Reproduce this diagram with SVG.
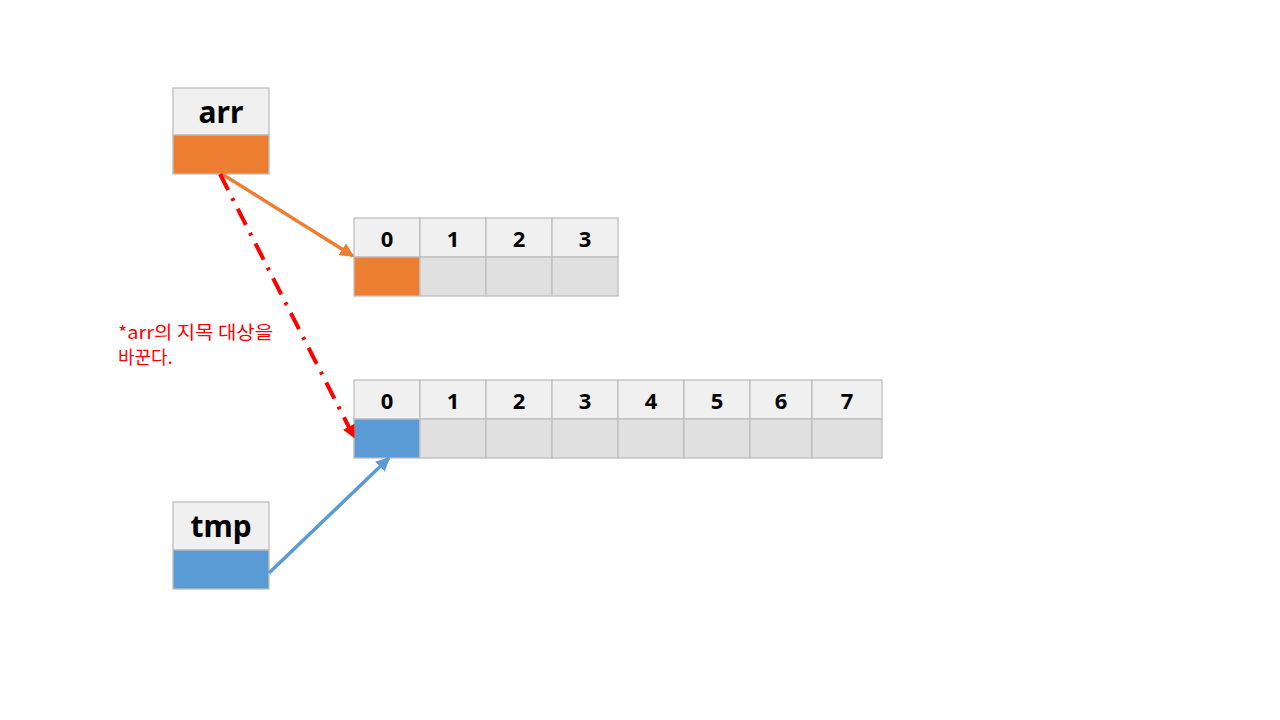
<svg xmlns="http://www.w3.org/2000/svg" width="1280" height="720" viewBox="0 0 1280 720">
<defs>
<style>
.hd{fill:#f0f0f0;stroke:#bfbfbf;stroke-width:1.3}
.bd{fill:#e0e0e0;stroke:#bfbfbf;stroke-width:1.3}
.or{fill:#ed7d31;stroke:#bfbfbf;stroke-width:1.3}
.bl{fill:#5b9bd5;stroke:#bfbfbf;stroke-width:1.3}
.lbl{font-family:"Noto Sans","Open Sans","Noto Sans CJK KR",sans-serif;font-weight:bold;font-size:30px;fill:#000;text-anchor:middle}
.idx{font-family:"Noto Sans","Open Sans","Noto Sans CJK KR",sans-serif;font-weight:bold;font-size:22px;fill:#000;text-anchor:middle}
.note{font-family:"Noto Sans CJK KR","Noto Sans",sans-serif;font-size:18px;fill:#ff0000}
</style>
<marker id="ao" viewBox="0 0 10 10" refX="9" refY="5" markerWidth="4" markerHeight="4" orient="auto" markerUnits="strokeWidth"><path d="M0,0L10,5L0,10z" fill="#ed7d31"/></marker>
<marker id="ab" viewBox="0 0 10 10" refX="9" refY="5" markerWidth="4" markerHeight="4" orient="auto" markerUnits="strokeWidth"><path d="M0,0L10,5L0,10z" fill="#5b9bd5"/></marker>
<marker id="ar" viewBox="0 0 10 10" refX="9" refY="5" markerWidth="3.2" markerHeight="3.2" orient="auto" markerUnits="strokeWidth"><path d="M0,0L10,5L0,10z" fill="#ff0000"/></marker>
</defs>
<rect width="1280" height="720" fill="#ffffff"/>
<g id="arr">
<rect class="hd" x="173" y="88" width="96" height="47"/>
<rect class="or" x="173" y="135" width="96" height="39"/>
<text class="lbl" x="221" y="123">arr</text>
</g>
<g id="tmp">
<rect class="hd" x="173" y="502" width="96" height="48"/>
<rect class="bl" x="173" y="550" width="96" height="39"/>
<text class="lbl" x="221" y="537">tmp</text>
</g>
<g id="array4">
<rect class="hd" x="354" y="218" width="66" height="39"/>
<rect class="hd" x="420" y="218" width="66" height="39"/>
<rect class="hd" x="486" y="218" width="66" height="39"/>
<rect class="hd" x="552" y="218" width="66" height="39"/>
<rect class="or" x="354" y="257" width="66" height="39"/>
<rect class="bd" x="420" y="257" width="66" height="39"/>
<rect class="bd" x="486" y="257" width="66" height="39"/>
<rect class="bd" x="552" y="257" width="66" height="39"/>
<text class="idx" x="387" y="247">0</text>
<text class="idx" x="453" y="247">1</text>
<text class="idx" x="519" y="247">2</text>
<text class="idx" x="585" y="247">3</text>
</g>
<g id="array8">
<rect class="hd" x="354" y="380" width="66" height="39"/>
<rect class="hd" x="420" y="380" width="66" height="39"/>
<rect class="hd" x="486" y="380" width="66" height="39"/>
<rect class="hd" x="552" y="380" width="66" height="39"/>
<rect class="hd" x="618" y="380" width="66" height="39"/>
<rect class="hd" x="684" y="380" width="66" height="39"/>
<rect class="hd" x="750" y="380" width="62" height="39"/>
<rect class="hd" x="812" y="380" width="70" height="39"/>
<rect class="bl" x="354" y="419" width="66" height="39"/>
<rect class="bd" x="420" y="419" width="66" height="39"/>
<rect class="bd" x="486" y="419" width="66" height="39"/>
<rect class="bd" x="552" y="419" width="66" height="39"/>
<rect class="bd" x="618" y="419" width="66" height="39"/>
<rect class="bd" x="684" y="419" width="66" height="39"/>
<rect class="bd" x="750" y="419" width="62" height="39"/>
<rect class="bd" x="812" y="419" width="70" height="39"/>
<text class="idx" x="387" y="409">0</text>
<text class="idx" x="453" y="409">1</text>
<text class="idx" x="519" y="409">2</text>
<text class="idx" x="585" y="409">3</text>
<text class="idx" x="651" y="409">4</text>
<text class="idx" x="717" y="409">5</text>
<text class="idx" x="781" y="409">6</text>
<text class="idx" x="847" y="409">7</text>
</g>
<g id="connectors" fill="none">
<line x1="222" y1="174" x2="353" y2="256" stroke="#ed7d31" stroke-width="3.5" marker-end="url(#ao)"/>
<line x1="220" y1="174" x2="354" y2="437" stroke="#ff0000" stroke-width="4" stroke-dasharray="18,9,3,9" marker-end="url(#ar)"/>
<line x1="269" y1="573" x2="389" y2="458" stroke="#5b9bd5" stroke-width="3.5" marker-end="url(#ab)"/>
</g>
<g id="note">
<text class="note" x="118" y="339" textLength="155" lengthAdjust="spacingAndGlyphs">*arr의 지목 대상을</text>
<text class="note" x="118" y="364">바꾼다.</text>
</g>
</svg>
